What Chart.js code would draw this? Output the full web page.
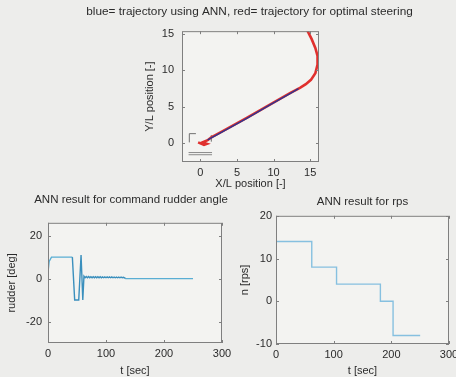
<!DOCTYPE html>
<html>
<head>
<meta charset="utf-8">
<script src="https://cdn.jsdelivr.net/npm/chart.js@4.4.1/dist/chart.umd.min.js"></script>
<style>
  html, body { margin: 0; padding: 0; background: #ededeb; overflow: hidden; }
  body { width: 456px; height: 377px; position: relative; }
  canvas { position: absolute; }
</style>
</head>
<body>
<canvas id="trajChart" width="456" height="191" style="left:0;top:0"></canvas>
<canvas id="rudderChart" width="257" height="193" style="left:0;top:185px"></canvas>
<canvas id="rpsChart" width="257" height="193" style="left:230px;top:185px"></canvas>
<script>
// ---- data ----
// top: trajectory, X/L and Y/L
const optX = [-0.3, 0.5, 0.9, 0.3, 1.0, 1.5, 3.0, 6.4, 9.5, 12.3, 13.6, 14.4, 15.1, 15.7, 16.0, 16.0, 15.7, 15.2, 14.6];
const optY = [0.1, -0.25, -0.1, 0.1, 0.4, 0.8, 1.6, 3.5, 5.3, 6.9, 7.6, 8.1, 8.7, 9.6, 10.8, 12.0, 13.1, 14.3, 15.5];
const annX = [1.0, 3.0, 6.4, 9.5, 12.3, 13.4];
const annY = [0.45, 1.55, 3.45, 5.25, 6.85, 7.5];
// little grey ship marks near the origin
const markAX = [-1.5, -1.5, -0.6];
const markAY = [0.1, 1.3, 1.3];
const markBX = [1.5, 1.5];
const markBY = [0.2, 1.1];
const hullX = [-1.6, 1.6];
const hullY1 = [-1.3, -1.3];
const hullY2 = [-1.6, -1.6];
const trajTicks = [0, 5, 10, 15];

// bottom left: command rudder angle
const rudT = [0, 2, 6, 42, 46, 53, 57, 58, 60, 62, 64, 66, 68, 70, 72, 74, 76, 78, 80, 82, 84, 86, 88, 90, 92, 94, 96, 98, 100, 102, 104, 106, 108, 110, 112, 114, 116, 118, 120, 122, 124, 126, 128, 130, 132, 134, 250];
const rudV = [3, 8, 10, 10, -10, -10, 11, 11, -10, 1.1, 0.4, 1.0, 0.4, 1.0, 0.4, 0.9, 0.4, 0.9, 0.4, 0.9, 0.4, 0.9, 0.4, 0.9, 0.4, 0.8, 0.4, 0.8, 0.4, 0.8, 0.4, 0.8, 0.4, 0.8, 0.4, 0.7, 0.4, 0.7, 0.4, 0.7, 0.4, 0.7, 0.4, 0.6, 0.3, 0, 0];
const rudderTicks = [-20, 0, 20];

// bottom right: rps
const rpsT = [0, 62, 105, 181, 203, 250];
const rpsV = [14, 8, 4, 0, -8, -8];
const rpsTicks = [-10, 0, 10, 20];
const timeTicks = [0, 100, 200, 300];

const FONT = "'Liberation Sans', Arial, sans-serif";
const TXT = "#2b2b2b";

function pts(xs, ys) {
  return xs.map((x, i) => ({ x: x, y: ys[i] }));
}

function axis(o) {
  return {
    type: "linear",
    position: o.position,
    min: o.min,
    max: o.max,
    grid: { display: false, drawTicks: false },
    border: { display: false },
    afterBuildTicks: (s) => { s.ticks = o.ticks.map((v) => ({ value: v })); },
    afterFit: (s) => { if (s.isHorizontal()) s.height = o.size; else s.width = o.size; },
    ticks: { font: { family: FONT, size: 11 }, color: TXT, padding: o.pad, maxRotation: 0, autoSkip: false },
    title: { display: true, text: o.title, font: { family: FONT, size: 11 }, color: TXT, padding: 0 },
  };
}

// empty axis, only used to push the plot box into place
function spacer(pos, w) {
  return {
    position: pos,
    weight: 1,
    grid: { display: false, drawTicks: false },
    border: { display: false },
    ticks: { display: false },
    afterFit: (s) => { s.width = w; },
  };
}

/************ plot box with inward ticks ************/
const framePlugin = {
  id: "frame",
  beforeDraw(chart) {
    const { ctx, chartArea: a } = chart;
    ctx.save();
    ctx.fillStyle = "#f3f3f1";
    ctx.fillRect(a.left, a.top, a.right - a.left, a.bottom - a.top);
    ctx.restore();
  },
  afterDraw(chart) {
    const { ctx, chartArea: a, scales } = chart;
    ctx.save();
    ctx.strokeStyle = "#7f7f7f";
    ctx.lineWidth = 1;
    ctx.strokeRect(a.left + 0.5, a.top + 0.5, a.right - a.left - 1, a.bottom - a.top - 1);
    ctx.beginPath();
    scales.x.ticks.forEach((t) => {
      const px = Math.round(scales.x.getPixelForValue(t.value)) + 0.5;
      ctx.moveTo(px, a.bottom); ctx.lineTo(px, a.bottom - 3);
      ctx.moveTo(px, a.top); ctx.lineTo(px, a.top + 3);
    });
    scales.y.ticks.forEach((t) => {
      const py = Math.round(scales.y.getPixelForValue(t.value)) + 0.5;
      ctx.moveTo(a.left, py); ctx.lineTo(a.left + 3, py);
      ctx.moveTo(a.right, py); ctx.lineTo(a.right - 3, py);
    });
    ctx.stroke();
    ctx.restore();
  },
};

function titleOpts(text, size, top, bottom) {
  return {
    display: true,
    text: text,
    font: { family: FONT, size: size, weight: "normal" },
    color: TXT,
    padding: { top: top, bottom: bottom },
  };
}

function lineSet(data, color, width) {
  return { data: data, borderColor: color, borderWidth: width, pointRadius: 0, showLine: true, fill: false, tension: 0 };
}

// Trajectory (first dataset is drawn on top)
new Chart(document.getElementById("trajChart"), {
  type: "scatter",
  data: {
    datasets: [
      lineSet(pts(annX, annY), "#2e3592", 1.4),
      lineSet(pts(optX, optY), "#e0302e", 2.6),
      lineSet(pts(markAX, markAY), "#707070", 1),
      lineSet(pts(markBX, markBY), "#707070", 1),
      lineSet(pts(hullX, hullY1), "#8a8a8a", 1),
      lineSet(pts(hullX, hullY2), "#8a8a8a", 1),
    ],
  },
  options: {
    responsive: false,
    animation: false,
    layout: { padding: { left: 43, right: 0, top: 0, bottom: 0 } },
    plugins: {
      legend: { display: false },
      tooltip: { enabled: false },
      title: titleOpts("blue= trajectory using ANN, red= trajectory for optimal steering", 11.8, 5, 12),
    },
    scales: {
      x: axis({ position: "bottom", min: -2.5, max: 16.2, ticks: trajTicks, title: "X/L position [-]", size: 29, pad: 4 }),
      y: axis({ position: "left", min: -2.6, max: 15.4, ticks: trajTicks, title: "Y/L position [-]", size: 39, pad: 8 }),
      yl: spacer("left", 100),
      yr: spacer("right", 137),
    },
  },
  plugins: [framePlugin],
});

// Rudder angle
const rudderSet = lineSet(pts(rudT, rudV), "#5aaed4", 1.4);
rudderSet.segment = {
  borderColor: (c) => (c.p0.parsed.x >= 42 && c.p1.parsed.x <= 134 ? "#3a8fbd" : undefined),
};
new Chart(document.getElementById("rudderChart"), {
  type: "scatter",
  data: { datasets: [rudderSet] },
  options: {
    responsive: false,
    animation: false,
    layout: { padding: { left: 5, right: 0, top: 0, bottom: 0 } },
    plugins: {
      legend: { display: false },
      tooltip: { enabled: false },
      title: titleOpts("ANN result for command rudder angle", 11.5, 8, 16),
    },
    scales: {
      x: axis({ position: "bottom", min: 0, max: 300, ticks: timeTicks, title: "t [sec]", size: 35, pad: 4 }),
      y: axis({ position: "left", min: -30, max: 26, ticks: rudderTicks, title: "rudder [deg]", size: 43, pad: 6 }),
      yr: spacer("right", 35),
    },
  },
  plugins: [framePlugin],
});

// Propeller rps
new Chart(document.getElementById("rpsChart"), {
  type: "scatter",
  data: { datasets: [Object.assign(lineSet(pts(rpsT, rpsV), "#86c0e0", 1.4), { stepped: "before" })] },
  options: {
    responsive: false,
    animation: false,
    layout: { padding: { left: 8, right: 0, top: 0, bottom: 0 } },
    plugins: {
      legend: { display: false },
      tooltip: { enabled: false },
      title: titleOpts("ANN result for rps", 11.5, 10, 7),
    },
    scales: {
      x: axis({ position: "bottom", min: 0, max: 300, ticks: timeTicks, title: "t [sec]", size: 34, pad: 4 }),
      y: axis({ position: "left", min: -10, max: 20, ticks: rpsTicks, title: "n [rps]", size: 38, pad: 4 }),
      yr: spacer("right", 38),
    },
  },
  plugins: [framePlugin],
});
</script>
</body>
</html>
